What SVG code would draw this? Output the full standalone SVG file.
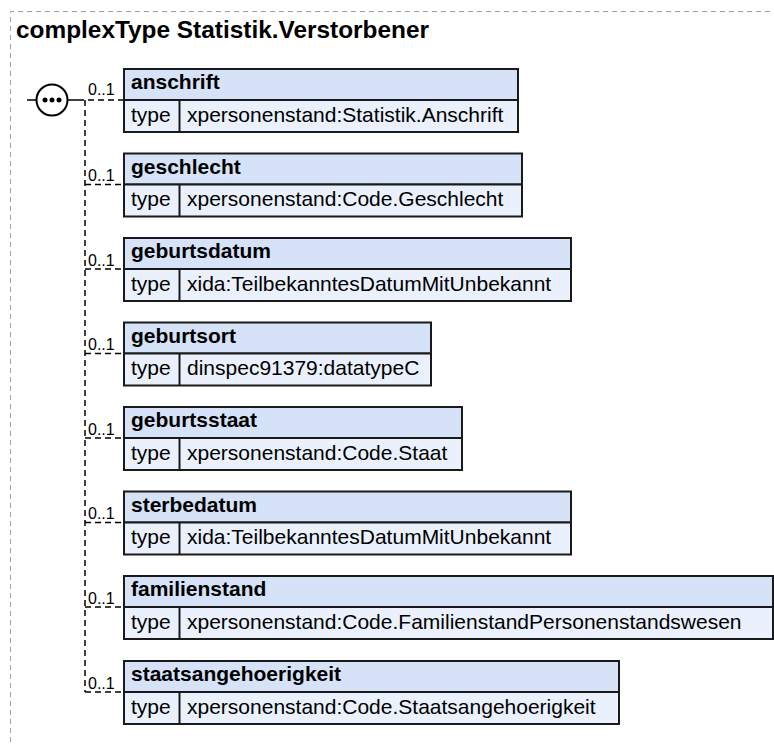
<svg xmlns="http://www.w3.org/2000/svg" width="774" height="744" viewBox="0 0 774 744">
<defs>
<style>
.frame{fill:none;stroke:#a0a0a0;stroke-width:1;stroke-dasharray:5,4}
.title{font-family:"Liberation Sans",Arial,sans-serif;font-size:24.4px;font-weight:bold;fill:#000}
.hd{fill:#d6e2f7;stroke:#1a1a1a;stroke-width:2}
.rw{fill:#eaf1fc;stroke:#1a1a1a;stroke-width:2}
.div{stroke:#1a1a1a;stroke-width:2}
.hn{font-family:"Liberation Sans",Arial,sans-serif;font-size:21px;font-weight:bold;fill:#000}
.tx{font-family:"Liberation Sans",Arial,sans-serif;font-size:21px;fill:#000}
.card{font-family:"Liberation Sans",Arial,sans-serif;font-size:16px;fill:#000}
.con{fill:none;stroke:#000;stroke-width:1.5;stroke-dasharray:6,4}
.seq{fill:#fff;stroke:#000;stroke-width:2}
</style>
</defs>
<rect width="774" height="744" fill="#fff"/>
<path class="frame" d="M10.5,760 V11.5 H790"/>
<text class="title" x="16" y="38">complexType Statistik.Verstorbener</text>

<g id="connectors">
<line x1="27" y1="100" x2="36" y2="100" stroke="#000" stroke-width="1.5"/>
<line x1="68" y1="100" x2="78" y2="100" stroke="#000" stroke-width="1.5"/>
<path class="con" d="M78,100 H124 M85,100 V692"/>
<path class="con" d="M85,184.5 H124 M85,269 H124 M85,353.5 H124 M85,438 H124 M85,522.5 H124 M85,607 H124 M85,692 H124"/>
<text class="card" x="88" y="95">0..1</text>
<text class="card" x="88" y="181">0..1</text>
<text class="card" x="88" y="265.5">0..1</text>
<text class="card" x="88" y="350">0..1</text>
<text class="card" x="88" y="434.5">0..1</text>
<text class="card" x="88" y="519">0..1</text>
<text class="card" x="88" y="603.5">0..1</text>
<text class="card" x="88" y="688.5">0..1</text>
</g>

<g id="sequence">
<circle class="seq" cx="52" cy="100" r="15.5"/>
<circle cx="45" cy="100" r="2.5"/>
<circle cx="52" cy="100" r="2.5"/>
<circle cx="59" cy="100" r="2.5"/>
</g>

<g id="anschrift">
<rect class="hd" x="124" y="69" width="394" height="31"/>
<rect class="rw" x="124" y="100" width="394" height="32"/>
<line class="div" x1="179.5" y1="100" x2="179.5" y2="132"/>
<text class="hn" x="131" y="89">anschrift</text>
<text class="tx" x="131" y="121.5">type</text>
<text class="tx" x="187" y="121.5">xpersonenstand:Statistik.Anschrift</text>
</g>

<g id="geschlecht">
<rect class="hd" x="124" y="153.5" width="398" height="31"/>
<rect class="rw" x="124" y="184.5" width="398" height="32"/>
<line class="div" x1="179.5" y1="184.5" x2="179.5" y2="216.5"/>
<text class="hn" x="131" y="173.5">geschlecht</text>
<text class="tx" x="131" y="206">type</text>
<text class="tx" x="187" y="206">xpersonenstand:Code.Geschlecht</text>
</g>

<g id="geburtsdatum">
<rect class="hd" x="124" y="238" width="447" height="31"/>
<rect class="rw" x="124" y="269" width="447" height="32"/>
<line class="div" x1="179.5" y1="269" x2="179.5" y2="301"/>
<text class="hn" x="131" y="258">geburtsdatum</text>
<text class="tx" x="131" y="290.5">type</text>
<text class="tx" x="187" y="290.5">xida:TeilbekanntesDatumMitUnbekannt</text>
</g>

<g id="geburtsort">
<rect class="hd" x="124" y="322.5" width="307" height="31"/>
<rect class="rw" x="124" y="353.5" width="307" height="32"/>
<line class="div" x1="179.5" y1="353.5" x2="179.5" y2="385.5"/>
<text class="hn" x="131" y="342.5">geburtsort</text>
<text class="tx" x="131" y="375">type</text>
<text class="tx" x="187" y="375">dinspec91379:datatypeC</text>
</g>

<g id="geburtsstaat">
<rect class="hd" x="124" y="407" width="338" height="31"/>
<rect class="rw" x="124" y="438" width="338" height="32"/>
<line class="div" x1="179.5" y1="438" x2="179.5" y2="470"/>
<text class="hn" x="131" y="427">geburtsstaat</text>
<text class="tx" x="131" y="459.5">type</text>
<text class="tx" x="187" y="459.5">xpersonenstand:Code.Staat</text>
</g>

<g id="sterbedatum">
<rect class="hd" x="124" y="491.5" width="447" height="31"/>
<rect class="rw" x="124" y="522.5" width="447" height="32"/>
<line class="div" x1="179.5" y1="522.5" x2="179.5" y2="554.5"/>
<text class="hn" x="131" y="511.5">sterbedatum</text>
<text class="tx" x="131" y="544">type</text>
<text class="tx" x="187" y="544">xida:TeilbekanntesDatumMitUnbekannt</text>
</g>

<g id="familienstand">
<rect class="hd" x="124" y="576" width="649" height="31"/>
<rect class="rw" x="124" y="607" width="649" height="32"/>
<line class="div" x1="179.5" y1="607" x2="179.5" y2="639"/>
<text class="hn" x="131" y="596">familienstand</text>
<text class="tx" x="131" y="628.5">type</text>
<text class="tx" x="187" y="628.5">xpersonenstand:Code.FamilienstandPersonenstandswesen</text>
</g>

<g id="staatsangehoerigkeit">
<rect class="hd" x="124" y="661" width="495" height="31"/>
<rect class="rw" x="124" y="692" width="495" height="32"/>
<line class="div" x1="179.5" y1="692" x2="179.5" y2="724"/>
<text class="hn" x="131" y="681">staatsangehoerigkeit</text>
<text class="tx" x="131" y="713.5">type</text>
<text class="tx" x="187" y="713.5">xpersonenstand:Code.Staatsangehoerigkeit</text>
</g>
</svg>
